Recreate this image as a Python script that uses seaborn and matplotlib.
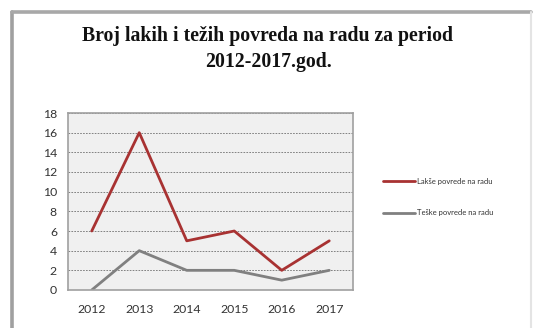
import matplotlib
matplotlib.use("Agg")
import matplotlib.pyplot as plt
import seaborn as sns
import pandas as pd
from matplotlib.lines import Line2D

years = [2012, 2013, 2014, 2015, 2016, 2017]
lakse = [6, 16, 5, 6, 2, 5]
teske = [0, 4, 2, 2, 1, 2]
series_names = ["Lakše povrede na radu", "Teške povrede na radu"]
title = "Broj lakih i težih povreda na radu za period\n2012-2017.god."

df = pd.DataFrame({
    "year": years * 2,
    "value": lakse + teske,
    "series": [series_names[0]] * len(years) + [series_names[1]] * len(years),
})

sns.set_theme(style="white")
plt.rcParams["font.family"] = ["Lato", "DejaVu Sans"]

fig = plt.figure(figsize=(5.37, 3.28), dpi=100)
fig.patch.set_facecolor("white")

# outer frame like the screenshot (left/top darker, right faint)
W, H = 537, 328
fig.add_artist(Line2D([12 / W, 12 / W], [0, 1 - 12 / H], transform=fig.transFigure,
                      color="#a0a0a0", linewidth=2.6))
fig.add_artist(Line2D([12 / W, 531 / W], [1 - 12 / H, 1 - 12 / H], transform=fig.transFigure,
                      color="#a8a8a8", linewidth=2.6))
fig.add_artist(Line2D([531 / W, 531 / W], [0, 1 - 12 / H], transform=fig.transFigure,
                      color="#e4e4e4", linewidth=1.5))

ax = fig.add_axes([68 / W, 1 - 290 / H, (353 - 68) / W, (290 - 113) / H])
ax.set_facecolor("#f0f0f0")

palette = {series_names[0]: "#a83232", series_names[1]: "#808080"}
sns.lineplot(data=df, x="year", y="value", hue="series", palette=palette,
             linewidth=2.0, ax=ax, legend=False)

ax.set_xlim(years[0] - 0.5, years[-1] + 0.5)
ax.set_ylim(0, 18)
ax.set_yticks(range(0, 19, 2))
ax.set_xticks(years)
ax.set_xticklabels([str(y) for y in years])
ax.grid(axis="y", color="#707070", linestyle=(0, (2, 1.5)), linewidth=0.6)
ax.set_axisbelow(True)
for s in ax.spines.values():
    s.set_color("#a0a0a0")
    s.set_linewidth(1.2)
ax.tick_params(axis="both", length=0, labelsize=8.8, colors="#333333")
ax.tick_params(axis="x", pad=10)
ax.tick_params(axis="y", pad=8)
ax.set_xlabel("")
ax.set_ylabel("")

fig.text(268 / W, 1 - 49 / H, title, ha="center", va="center",
         fontfamily="Liberation Serif", fontweight="bold", fontsize=14.2,
         linespacing=1.4, color="#111111")

# legend
handles = [Line2D([0], [0], color=palette[n], linewidth=2.0) for n in series_names]
leg = fig.legend(handles, series_names, loc="upper left",
                 bbox_to_anchor=(376 / W, 1 - 171 / H), frameon=False,
                 fontsize=5.5, handlelength=4.2, handletextpad=0.3,
                 labelspacing=3.2, labelcolor="#333333")

fig.savefig("out.png", dpi=100)
